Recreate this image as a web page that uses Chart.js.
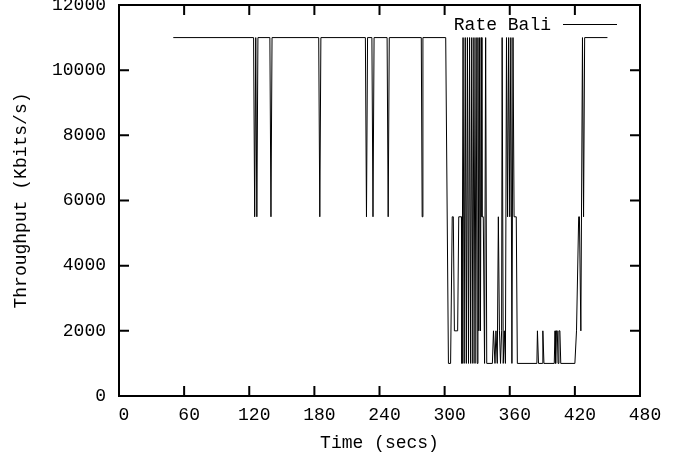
<!DOCTYPE html>
<html>
<head>
<meta charset="utf-8">
<script src="https://cdn.jsdelivr.net/npm/chart.js@4/dist/chart.umd.min.js"></script>
<style>
  html, body { margin: 0; padding: 0; background: #fff; }
</style>
</head>
<body>
<canvas id="rateChart" width="686" height="461"></canvas>
<script>
// vertices of the throughput trace (secs, Kbits/s)
const times = [
  50, 124, 125, 126, 127, 128, 139, 140, 141, 184, 185, 186,
  227, 228, 229, 233, 234, 235, 247, 248, 249, 278.5, 279.3, 280,
  301, 303.5, 305.5, 307, 308, 309, 312, 313, 315.5, 316,
  317, 318, 319, 320, 321, 322, 323, 324, 325, 326, 327, 328, 329, 330,
  330.7, 331.5, 332.3, 333, 333.8, 334.4, 335.6, 336.8, 337.8, 338.8,
  344, 345, 346.4, 347.3, 348.5, 349.5, 350.5, 351.5, 352.5, 353, 354, 355, 356,
  357, 358, 359, 360, 361, 362, 363, 364, 366, 367,
  385, 385.5, 386.5, 390, 390.5, 391.5,
  401, 401.7, 402.3, 403, 403.8, 404.5, 405.3, 406.2, 407,
  420, 421.5, 423.5, 424.2, 425.5, 427, 428, 429, 450
];
const rates = [
  11000, 11000, 5500, 11000, 5500, 11000, 11000, 5500, 11000, 11000, 5500, 11000,
  11000, 5500, 11000, 11000, 5500, 11000, 11000, 5500, 11000, 11000, 5500, 11000,
  11000, 1000, 1000, 5500, 5500, 2000, 2000, 5500, 5500, 1000,
  11000, 1000, 11000, 1000, 11000, 1000, 11000, 1000, 11000, 1000, 11000, 1000, 11000, 1000,
  11000, 2000, 11000, 2000, 11000, 5500, 5500, 1000, 11000, 1000,
  1000, 2000, 1000, 2000, 1000, 5500, 2000, 1000, 2000, 11000, 1000, 2000, 1000,
  11000, 5500, 11000, 5500, 11000, 1000, 11000, 5500, 5500, 1000,
  1000, 2000, 1000, 1000, 2000, 1000,
  1000, 2000, 1000, 2000, 2000, 1000, 2000, 2000, 1000,
  1000, 2000, 5500, 5500, 2000, 11000, 5500, 11000, 11000
];
const xTicks = [0, 60, 120, 180, 240, 300, 360, 420, 480];
const yTicks = [0, 2000, 4000, 6000, 8000, 10000, 12000];

const monoFont = "'Liberation Mono', 'DejaVu Sans Mono', monospace";
const font = { family: monoFont, size: 18 };

const points = times.map((t, i) => ({ x: t, y: rates[i] }));

// gnuplot style frame: border, inward ticks on all sides, key inside top right
const framePlugin = {
  id: 'frame',
  afterDraw(chart) {
    const { ctx, chartArea: a, scales: { x, y } } = chart;
    ctx.save();
    ctx.strokeStyle = '#000';
    ctx.lineWidth = 2;
    ctx.strokeRect(a.left, a.top, a.right - a.left, a.bottom - a.top);
    ctx.beginPath();
    xTicks.forEach(v => {
      const px = x.getPixelForValue(v);
      ctx.moveTo(px, a.bottom); ctx.lineTo(px, a.bottom - 10);
      ctx.moveTo(px, a.top); ctx.lineTo(px, a.top + 10);
    });
    yTicks.forEach(v => {
      const py = y.getPixelForValue(v);
      ctx.moveTo(a.left, py); ctx.lineTo(a.left + 10, py);
      ctx.moveTo(a.right, py); ctx.lineTo(a.right - 10, py);
    });
    ctx.stroke();

    // key
    const ds = chart.data.datasets[0];
    ctx.font = '18px ' + monoFont;
    ctx.fillStyle = '#000';
    ctx.textAlign = 'right';
    ctx.textBaseline = 'middle';
    ctx.fillText(ds.label, a.right - 89, a.top + 20);
    ctx.lineWidth = 1;
    ctx.beginPath();
    ctx.moveTo(a.right - 77, a.top + 19.5);
    ctx.lineTo(a.right - 23, a.top + 19.5);
    ctx.stroke();
    ctx.restore();
  }
};

const ctx = document.getElementById('rateChart').getContext('2d');
new Chart(ctx, {
  type: 'line',
  data: {
    datasets: [{
      label: 'Rate Bali',
      data: points,
      borderColor: '#000',
      borderWidth: 1,
      pointRadius: 0,
      tension: 0,
      fill: false
    }]
  },
  options: {
    responsive: false,
    animation: false,
    layout: { padding: { top: 5, right: 46, left: 0, bottom: 0 } },
    plugins: { legend: { display: false }, tooltip: { enabled: false } },
    scales: {
      x: {
        type: 'linear',
        min: 0,
        max: 480,
        afterBuildTicks: s => { s.ticks = xTicks.map(v => ({ value: v })); },
        afterFit: s => { s.height = 65; s.paddingLeft = 0; s.paddingRight = 0; },
        grid: { display: false, drawTicks: false },
        border: { display: false },
        ticks: {
          font, color: '#000', padding: 8, labelOffset: 5,
          maxRotation: 0, autoSkip: false,
          callback: v => String(v)
        },
        title: { display: true, text: 'Time (secs)', font, color: '#000', padding: { top: 0, bottom: 7 } }
      },
      y: {
        min: 0,
        max: 12000,
        afterBuildTicks: s => { s.ticks = yTicks.map(v => ({ value: v })); },
        afterFit: s => { s.width = 119; s.paddingTop = 0; s.paddingBottom = 0; },
        grid: { display: false, drawTicks: false },
        border: { display: false },
        ticks: { font, color: '#000', padding: 13, callback: v => String(v) },
        title: { display: true, text: 'Throughput (Kbits/s)', font, color: '#000', padding: { top: 10, bottom: 0 } }
      }
    }
  },
  plugins: [framePlugin]
});
</script>
</body>
</html>
